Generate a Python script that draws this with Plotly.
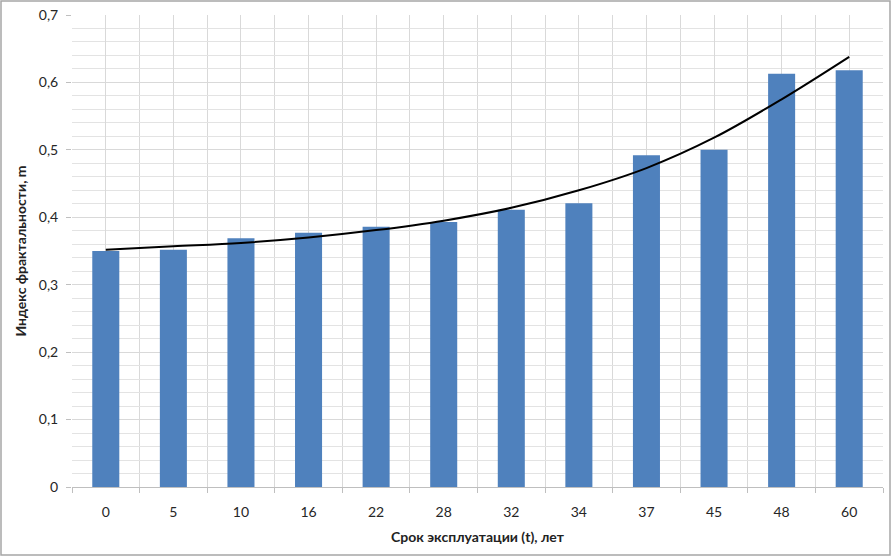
import plotly.graph_objects as go

categories = ["0", "5", "10", "16", "22", "28", "32", "34", "37", "45", "48", "60"]
fractal_index = [0.350, 0.352, 0.369, 0.377, 0.386, 0.393, 0.411, 0.421, 0.492, 0.500, 0.613, 0.618]
trend_values = [0.352, 0.357, 0.362, 0.370, 0.381, 0.395, 0.414, 0.440, 0.473, 0.518, 0.575, 0.638]
y_ticks = [0, 0.1, 0.2, 0.3, 0.4, 0.5, 0.6, 0.7]
y_ticktext = ["0", "0,1", "0,2", "0,3", "0,4", "0,5", "0,6", "0,7"]

xpos = list(range(len(categories)))
FONT = "Lato, 'Open Sans', sans-serif"

fig = go.Figure()
fig.add_trace(go.Bar(x=xpos, y=fractal_index, width=0.4,
                     marker=dict(color="#4F81BD", line=dict(width=0)),
                     showlegend=False))
fig.add_trace(go.Scatter(x=xpos, y=trend_values, mode="lines",
                         line=dict(color="black", width=2, shape="spline"),
                         showlegend=False))

L, R, T, B = 72, 9, 15, 70
W, H = 892, 557
pw, ph = W - L - R, H - T - B

fig.update_layout(
    width=W, height=H,
    margin=dict(l=L, r=R, t=T, b=B),
    paper_bgcolor="white", plot_bgcolor="white",
    font=dict(family=FONT, size=14, color="#262626"),
    bargap=0.6,
    xaxis=dict(
        automargin=False,
        range=[-0.5, len(categories) - 0.5],
        tickvals=xpos, ticktext=categories,
        showgrid=True, gridcolor="#d9d9d9", gridwidth=1,
        ticks="", ticklabelstandoff=12,
        showline=True, linecolor="#bfbfbf", linewidth=1,
        zeroline=False,
        minor=dict(tickvals=[i - 0.5 for i in range(len(categories) + 1)],
                   showgrid=True, gridcolor="#d9d9d9", gridwidth=1,
                   ticks="outside", ticklen=5, tickcolor="#bfbfbf"),
        title=dict(text="<b>Срок эксплуатации (t), лет</b>",
                   font=dict(size=14, family=FONT, color="#222"), standoff=13),
    ),
    yaxis=dict(
        automargin=False,
        range=[0, 0.7],
        tickvals=y_ticks, ticktext=y_ticktext,
        showgrid=True, gridcolor="#d9d9d9", gridwidth=1,
        ticks="outside", ticklen=5, tickcolor="#bfbfbf", ticklabelstandoff=5,
        zeroline=False, showline=False,
        minor=dict(dtick=0.02, showgrid=True, gridcolor="#e3e3e3", gridwidth=1),
        title=dict(text="<b>Индекс фрактальности, m</b>",
                   font=dict(size=14, family=FONT, color="#222"), standoff=8),
    ),
    shapes=[dict(type="rect", xref="paper", yref="paper",
                 x0=-(L - 1) / pw, x1=1 + (R - 2) / pw,
                 y0=-(B - 2) / ph, y1=1 + (T - 1) / ph,
                 line=dict(color="#a6a6a6", width=1.5), fillcolor="rgba(0,0,0,0)",
                 layer="below")],
)

fig.write_html("out.html", config={"displayModeBar": False},
               post_script="document.body.style.margin='0';document.body.style.overflow='hidden';")
